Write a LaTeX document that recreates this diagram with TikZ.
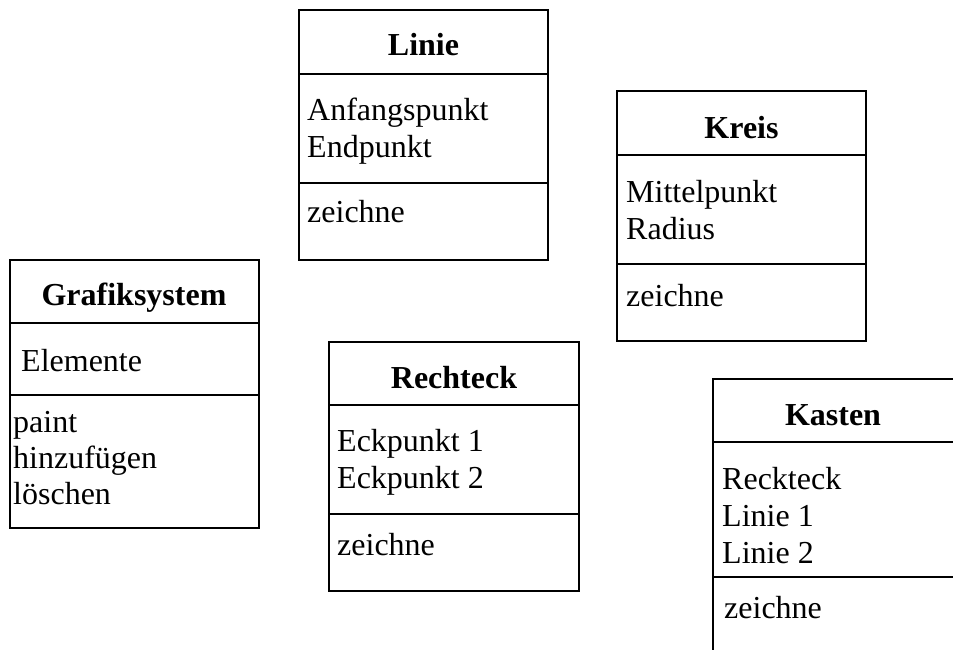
\documentclass[tikz,border=0pt]{standalone}
\usepackage{fontspec}
\setmainfont{Liberation Serif}
\begin{document}
\begin{tikzpicture}[x=1pt,y=-1pt,
  frame/.style={draw=black,line width=2.6pt},
  txt/.style={anchor=base west,inner sep=0pt,font=\fontsize{32}{37}\selectfont},
  ttl/.style={anchor=base,inner sep=0pt,font=\fontsize{32}{37}\selectfont\bfseries}]
\useasboundingbox[fill=white] (0,0) rectangle (953,649);
\clip (0,0) rectangle (953,649);

% Linie
\draw[frame] (299,10) rectangle (548,260);
\draw[frame] (299,74) -- (548,74);
\draw[frame] (299,183) -- (548,183);
\node[ttl] (linieT) at (423.5,55) {Linie};
\node[txt] (linieA1) at (307,120) {Anfangspunkt};
\node[txt] (linieA2) at (307,157) {Endpunkt};
\node[txt] (linieO1) at (307,222) {zeichne};

% Kreis
\draw[frame] (617,91) rectangle (866,341);
\draw[frame] (617,155) -- (866,155);
\draw[frame] (617,264) -- (866,264);
\node[ttl] (kreisT) at (741.5,138) {Kreis};
\node[txt] (kreisA1) at (626,202) {Mittelpunkt};
\node[txt] (kreisA2) at (626,239) {Radius};
\node[txt] (kreisO1) at (626,306) {zeichne};

% Grafiksystem
\draw[frame] (10,260) rectangle (259,528);
\draw[frame] (10,323) -- (259,323);
\draw[frame] (10,395) -- (259,395);
\node[ttl] (grafT) at (134,305) {Grafiksystem};
\node[txt] (grafA1) at (21,371) {Elemente};
\node[txt] (grafO1) at (13,432) {paint};
\node[txt] (grafO2) at (13,468) {hinzufügen};
\node[txt] (grafO3) at (13,504) {löschen};

% Rechteck
\draw[frame] (329,342) rectangle (579,591);
\draw[frame] (329,405) -- (579,405);
\draw[frame] (329,514) -- (579,514);
\node[ttl] (rechtT) at (454,388) {Rechteck};
\node[txt] (rechtA1) at (337,451) {Eckpunkt 1};
\node[txt] (rechtA2) at (337,488) {Eckpunkt 2};
\node[txt] (rechtO1) at (337,555) {zeichne};

% Kasten (runs past the right and bottom edges)
\draw[frame] (713,379) rectangle (962,680);
\draw[frame] (713,442) -- (962,442);
\draw[frame] (713,577) -- (962,577);
\node[ttl] (kastT) at (833,425) {Kasten};
\node[txt] (kastA1) at (722,489) {Reckteck};
\node[txt] (kastA2) at (722,526) {Linie 1};
\node[txt] (kastA3) at (722,563) {Linie 2};
\node[txt] (kastO1) at (724,618) {zeichne};
\end{tikzpicture}
\end{document}
